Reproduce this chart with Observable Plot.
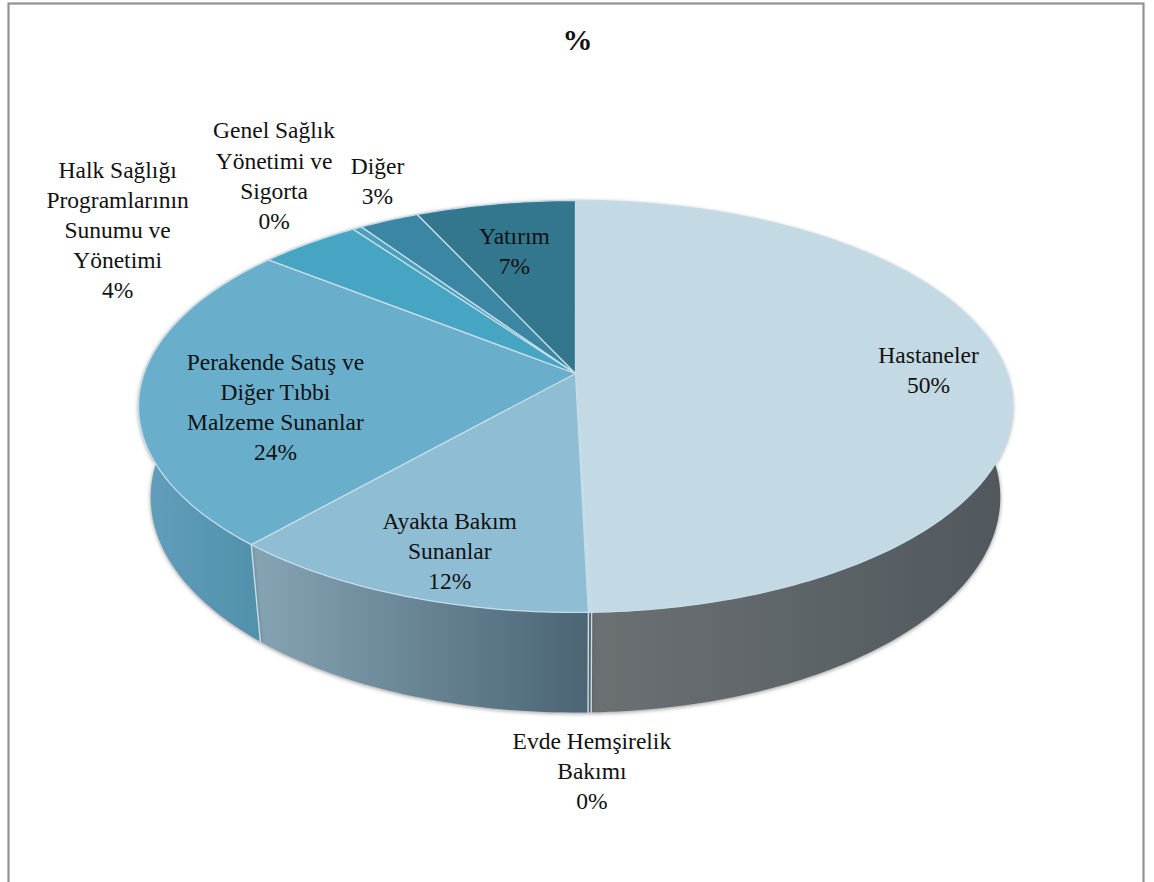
<!DOCTYPE html>
<html lang="tr">
<head>
<meta charset="utf-8">
<title>%</title>
<script src="https://cdn.jsdelivr.net/npm/d3@7"></script>
<script src="https://cdn.jsdelivr.net/npm/@observablehq/plot@0.6"></script>
<style>
  html, body { margin: 0; padding: 0; background: #fff; overflow: hidden; }
</style>
</head>
<body>
<div id="chart"></div>
<script>
// Health expenditure by provider, percent of total
const categories = [
  "Hastaneler",
  "Evde Hemşirelik\nBakımı",
  "Ayakta Bakım\nSunanlar",
  "Perakende Satış ve\nDiğer Tıbbi\nMalzeme Sunanlar",
  "Halk Sağlığı\nProgramlarının\nSunumu ve\nYönetimi",
  "Genel Sağlık\nYönetimi ve\nSigorta",
  "Diğer",
  "Yatırım"
];
const shares = [49.5, 0.1, 11.9, 24.2, 4.4, 0.4, 2.6, 6.9];

// Slice colours: top face, wall gradient left and right
const topColors = ["#c3d9e4", "#c3d9e4", "#8fbdd3", "#69afcc", "#46a5c2", "#4a9fba", "#3b86a3", "#33778f"];
const wallLeft = ["#6c7174", "#6c7174", "#85a4b4", "#619fbd", "#46a5c2", "#4a9fba", "#3b86a3", "#33778f"];
const wallRight = ["#50585d", "#50585d", "#4b6575", "#4f8ea8", "#46a5c2", "#4a9fba", "#3b86a3", "#33778f"];

// Label placement on the disc: bearing in degrees clockwise from the top, reach in radii
const labelBearing = [88.3, 178.9, 198.4, 257, 304.25, 324.9, 334.6, 347.1];
const labelReach = [0.822, 1.5, 0.81, 0.696, 1.452, 1.445, 1.266, 0.704];

// Perspective disc and its extruded lower rim
const width = 1154, height = 882;
const cx = 575, cy = 373, radiusX = 431.4, radiusY = 200.7, tilt = 0.16;
const wallNarrow = 0.972, wallDrop = 89.3, wallStretch = 0.045;

function onDisc(bearing, reach = 1) {
  const a = bearing * Math.PI / 180;
  const u = reach * Math.sin(a), v = -reach * Math.cos(a);
  const s = 1 / (1 - tilt * v);
  return {x: cx + radiusX * u * s, y: cy + radiusY * v * s};
}
function onLowerRim(bearing) {
  const p = onDisc(bearing);
  return {x: cx + (p.x - cx) * wallNarrow, y: p.y + wallDrop + wallStretch * (p.y - cy)};
}

const total = d3.sum(shares);
const ends = d3.cumsum(shares).map((d) => d / total * 360);
const slices = shares.map((share, i) => ({
  i,
  share,
  start: i ? ends[i - 1] : 0,
  end: ends[i]
}));
function rimBearings({start, end}) {
  const n = Math.max(1, Math.ceil(end - start));
  return d3.range(n + 1).map((k) => start + (end - start) * k / n);
}

const topFace = (s) => {
  const rim = rimBearings(s).map((b) => onDisc(b));
  return [{x: cx, y: cy}, ...rim, {x: cx, y: cy}];
};
const wallFace = (s) => {
  const bearings = rimBearings(s);
  const upper = bearings.map((b) => onDisc(b));
  const lower = bearings.slice().reverse().map(onLowerRim);
  return [...upper, ...lower, upper[0]];
};

// Horizontal shading used on the walls
const gradients = () => {
  const defs = d3.create("svg:defs");
  slices.forEach(({i}) => {
    const g = defs.append("linearGradient").attr("id", `wall-${i}`)
      .attr("x1", 0).attr("x2", 1).attr("y1", 0).attr("y2", 0);
    g.append("stop").attr("offset", "0%").attr("stop-color", wallLeft[i]);
    g.append("stop").attr("offset", "100%").attr("stop-color", wallRight[i]);
  });
  return defs.node();
};

const xy = {x: "x", y: "y"};
const shadow = "drop-shadow(0 1px 2px rgba(60,60,60,0.55))";

const chart = Plot.plot({
  width, height, margin: 0,
  style: {background: "#fff"},
  x: {domain: [0, width], range: [0, width], axis: null},
  y: {domain: [0, height], range: [0, height], axis: null},
  marks: [
    gradients,
    Plot.frame({stroke: "#929292", strokeWidth: 2.2, insetLeft: 8, insetTop: 3, insetRight: 11, insetBottom: -10}),
    Plot.text(["%"], {
      frameAnchor: "top", dx: 0, dy: 28, text: (d) => d,
      fontFamily: "Liberation Serif", fontWeight: "bold", fontSize: 30, fill: "#111"
    }),
    // Side walls, then the separators between them
    ...slices.map((s) => Plot.line(wallFace(s), {
      ...xy, fill: `url(#wall-${s.i})`, stroke: "none", imageFilter: shadow
    })),
    ...slices.map((s) => Plot.line([onDisc(s.end), onLowerRim(s.end)], {
      ...xy, stroke: "#c9dde6", strokeWidth: 1.4
    })),
    // Top faces
    ...slices.map((s) => Plot.line(topFace(s), {
      ...xy, fill: topColors[s.i], stroke: "#c6dde8", strokeWidth: 1.3, strokeLinejoin: "round"
    })),
    // Labels
    Plot.text(slices, {
      x: (s) => onDisc(labelBearing[s.i], labelReach[s.i]).x,
      y: (s) => onDisc(labelBearing[s.i], labelReach[s.i]).y,
      text: (s) => `${categories[s.i]}\n${Math.round(s.share)}%`,
      fontFamily: "Liberation Serif", fontSize: 23.5, lineHeight: 1.28,
      lineAnchor: "middle", textAnchor: "middle", fill: "#111"
    })
  ]
});
document.getElementById("chart").append(chart);
</script>
</body>
</html>
